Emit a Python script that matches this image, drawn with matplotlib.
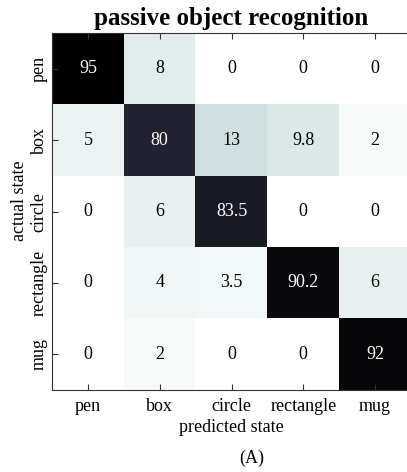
import numpy as np
import matplotlib.pyplot as plt

plt.rcParams['font.family'] = ['Liberation Serif', 'DejaVu Serif']

labels = ['pen', 'box', 'circle', 'rectangle', 'mug']
conf = np.array([
    [95, 8, 0, 0, 0],
    [5, 80, 13, 9.8, 2],
    [0, 6, 83.5, 0, 0],
    [0, 4, 3.5, 90.2, 6],
    [0, 2, 0, 0, 92],
])

fig = plt.figure(figsize=(4.07, 4.72), dpi=100)
ax = fig.add_axes([52 / 407, 82 / 472, 359 / 407, 357 / 472])

ax.imshow(conf, cmap='bone_r', vmin=0, vmax=95, aspect='auto', interpolation='nearest')

for i in range(conf.shape[0]):
    for j in range(conf.shape[1]):
        v = conf[i, j]
        txt = f'{v:g}'
        col = 'white' if v > 50 else 'black'
        ax.text(j, i, txt, ha='center', va='center', color=col, fontsize=13)

ax.set_xticks(range(len(labels)))
ax.set_xticklabels(labels, fontsize=13)
ax.set_yticks(range(len(labels)))
ax.set_yticklabels(labels, fontsize=13, rotation=90, va='center')
ax.tick_params(direction='in', length=4, top=True, right=False, width=0.8, color='#333333')
ax.tick_params(axis='x', pad=6)
ax.tick_params(axis='y', pad=3)
for s in ax.spines.values():
    s.set_color('#333333')
    s.set_linewidth(0.8)

ax.set_xlabel('predicted state', fontsize=13, labelpad=3)
ax.set_ylabel('actual state', fontsize=13, labelpad=0)
ax.yaxis.set_label_coords(-0.068, 0.53)
ax.set_title('passive object recognition', fontsize=18, fontweight='bold', pad=6)

fig.text(252 / 407, 1 - 458 / 472, '(A)', ha='center', va='center', fontsize=13)

fig.savefig('out.png', dpi=100)
